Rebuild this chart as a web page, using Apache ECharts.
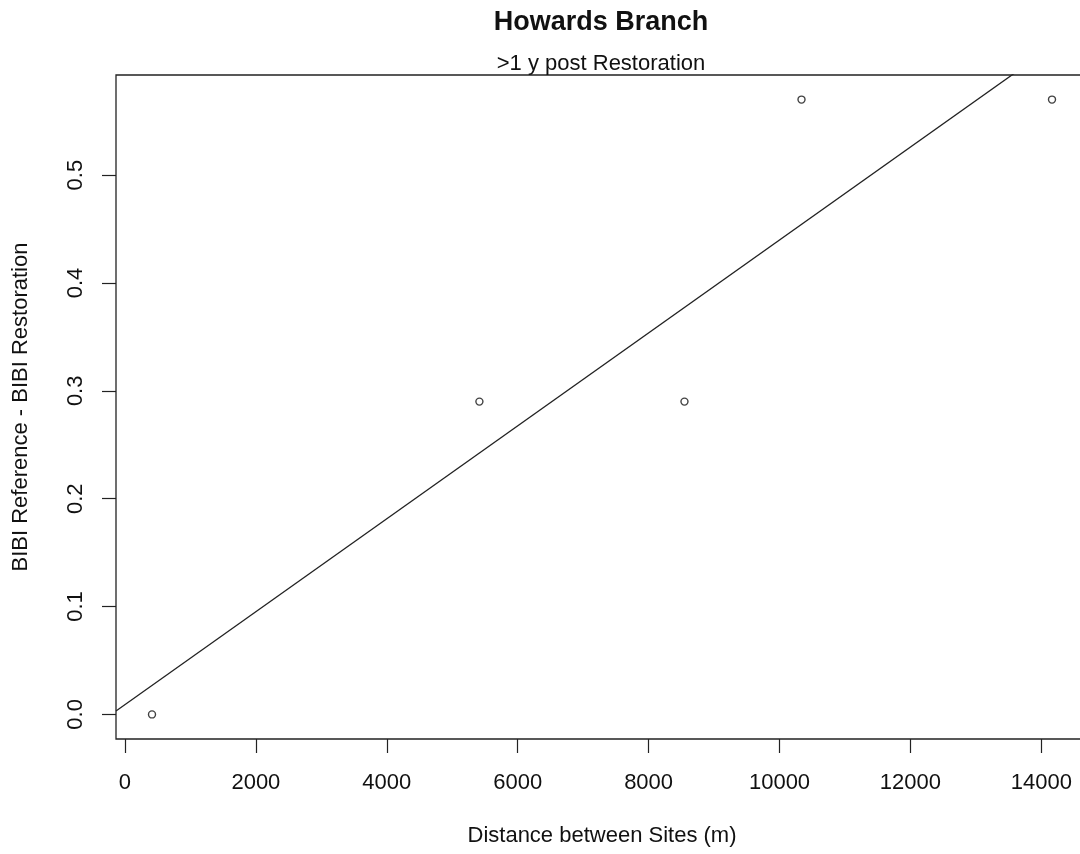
<!DOCTYPE html>
<html>
<head>
<meta charset="utf-8">
<script src="https://cdn.jsdelivr.net/npm/echarts@6/dist/echarts.min.js"></script>
<style>
html,body{margin:0;padding:0;background:#fff;}
#chart{width:1080px;height:854px;}
</style>
</head>
<body>
<div id="chart"></div>
<script>
// Data
const siteDistance = [413, 5415, 8548, 10336, 14163];   // m
const bibiDiff = [0.00, 0.29, 0.29, 0.57, 0.57];
const xTicks = [0, 2000, 4000, 6000, 8000, 10000, 12000, 14000];
const yTicks = [0.0, 0.1, 0.2, 0.3, 0.4, 0.5];
const titleText = 'Howards Branch';
const subtitleText = '>1 y post Restoration';
const xName = 'Distance between Sites (m)';
const yName = 'BIBI Reference - BIBI Restoration';

// R-style axis limits (data range extended by 4%)
function rLim(arr) {
  const lo = Math.min(...arr), hi = Math.max(...arr), d = (hi - lo) * 0.04;
  return [lo - d, hi + d];
}
const xLim = rLim(siteDistance);
const yLim = rLim(bibiDiff);

// least-squares fit line (abline(lm(y ~ x)))
const n = siteDistance.length;
const mx = siteDistance.reduce((a, b) => a + b, 0) / n;
const my = bibiDiff.reduce((a, b) => a + b, 0) / n;
let sxy = 0, sxx = 0;
for (let i = 0; i < n; i++) {
  sxy += (siteDistance[i] - mx) * (bibiDiff[i] - my);
  sxx += (siteDistance[i] - mx) ** 2;
}
const slope = sxy / sxx;
const intercept = my - slope * mx;
const fitLine = [xLim[0], xLim[1]].map(x => [x, intercept + slope * x]);

const FONT = '"Liberation Sans", Arial, Helvetica, sans-serif';
const chart = echarts.init(document.getElementById('chart'), null, {renderer: 'canvas'});
chart.setOption({
  animation: false,
  backgroundColor: '#fff',
  textStyle: {fontFamily: FONT},
  grid: {
    left: 116, top: 75, width: 972, height: 664,
    outerBoundsMode: 'none', containLabel: false,
    show: true, borderColor: '#222', borderWidth: 1.3, backgroundColor: 'transparent'
  },
  xAxis: {
    type: 'value', min: xLim[0], max: xLim[1],
    splitLine: {show: false},
    axisLine: {show: false, onZero: false},
    axisTick: {show: true, inside: false, length: 14, customValues: xTicks, lineStyle: {color: '#222', width: 1.2}},
    axisLabel: {show: true, customValues: xTicks, margin: 33, fontSize: 22, color: '#111', fontFamily: FONT,
      formatter: v => String(v)},
    name: xName, nameLocation: 'middle', nameGap: 86, nameMoveOverlap: false,
    nameTextStyle: {fontSize: 22, color: '#111', fontFamily: FONT}
  },
  yAxis: {
    type: 'value', min: yLim[0], max: yLim[1],
    splitLine: {show: false},
    axisLine: {show: false, onZero: false},
    axisTick: {show: true, inside: false, length: 14, customValues: yTicks, lineStyle: {color: '#222', width: 1.2}},
    axisLabel: {show: true, customValues: yTicks, rotate: 90, margin: 29, fontSize: 22, color: '#111', fontFamily: FONT,
      formatter: v => Number(v).toFixed(1)},
    name: yName, nameLocation: 'middle', nameGap: 84, nameRotate: 90, nameMoveOverlap: false,
    nameTextStyle: {fontSize: 22, color: '#111', fontFamily: FONT}
  },
  title: [
    {text: titleText, left: 596, top: 4, textAlign: 'center',
      textStyle: {fontSize: 27, fontWeight: 'bold', color: '#111', fontFamily: FONT}},
    {text: subtitleText, left: 596, top: 48, textAlign: 'center',
      textStyle: {fontSize: 22, fontWeight: 'normal', color: '#111', fontFamily: FONT}}
  ],
  series: [
    {
      type: 'scatter', data: siteDistance.map((x, i) => [x, bibiDiff[i]]),
      symbol: 'circle', symbolSize: 7,
      itemStyle: {color: '#fff', borderColor: '#111', borderWidth: 1.4},
      z: 5
    },
    {
      type: 'line', data: fitLine, showSymbol: false, symbol: 'none', clip: true,
      lineStyle: {color: '#222', width: 1.3}, z: 4
    }
  ]
});
</script>
</body>
</html>
